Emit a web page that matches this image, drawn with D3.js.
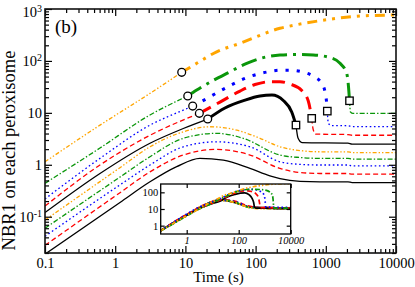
<!DOCTYPE html>
<html>
<head>
<meta charset="utf-8">
<script src="https://cdn.jsdelivr.net/npm/d3@7"></script>
<style>
  html, body { margin: 0; padding: 0; background: #fff; }
  svg text { font-family: "Liberation Serif", "Times New Roman", serif; fill: #000; }
</style>
</head>
<body>
<div id="chart"></div>
<script>
// tick values and labels
const xMajor = [0.1, 1, 10, 100, 1000, 10000];
const xLabels = ["0.1", "1", "10", "100", "1000", "10000"];
const yMajor = [0.1, 1, 10, 100, 1000];
const yLabels = ["10^-1", "1", "10", "10^2", "10^3"];
const insetXMajor = [1, 100, 10000];
const insetXLabels = ["1", "100", "10000"];
const insetYMajor = [1, 10, 100];
const insetYLabels = ["1", "10", "100"];

// upper curves, [time (s), NBR1]: thin rise to the circle, thick part to the square, thin tail
const upBlackRise = [[0.1, 0.12], [0.607, 0.68], [3.13, 2.6], [9.33, 5.0], [20.8, 7.59]];
const upBlackHigh = [[20.8, 7.59], [36.6, 12.4], [70.6, 17.6], [115.5, 21.1], [171, 22.0], [248, 17.3], [327, 10.4], [376, 5.82]];
const upBlackTail = [[376, 5.82], [402, 3.27], [458, 2.68], [2071, 2.62], [2362, 2.51], [10000, 2.51]];

const upRedRise = [[0.1, 0.16], [0.607, 0.99], [3.13, 3.7], [15.8, 9.78]];
const upRedHigh = [[15.8, 9.78], [31.1, 16.1], [60, 26.3], [98.1, 35.1], [160, 39.7], [222.6, 39.7], [309, 35.9], [454, 26.9], [563, 16.9], [630, 7.83]];
const upRedTail = [[630, 7.83], [664, 4.66], [725, 3.9], [2071, 3.82], [2362, 3.7], [10000, 3.7]];

const upBlueRise = [[0.1, 0.22], [0.607, 1.33], [3.13, 5.8], [9.33, 11.3], [12.7, 13.5]];
const upBlueHigh = [[12.7, 13.5], [19.0, 18.0], [36.6, 29.7], [70.6, 46.2], [152, 61.9], [223, 66.2], [309, 66.2], [454, 61.9], [663, 50.7], [874, 37.0], [974, 25.5], [1030, 15.2], [1051, 10.8]];
const upBlueTail = [[1051, 10.8], [1085, 6.36], [1186, 5.69], [2071, 5.64], [2362, 5.45], [10000, 5.45]];

const upGreenRise = [[0.1, 0.44], [0.607, 2.1], [3.13, 9.1], [10.8, 21.1]];
const upGreenHigh = [[10.8, 21.1], [14.5, 27.5], [43.2, 61.9], [74.7, 89.9], [128.8, 116], [222.6, 130], [385, 133], [663, 130], [1148, 116], [1594, 89.9], [1985, 57.7], [2141, 23.8], [2176, 17.1]];
const upGreenTail = [[2176, 17.1], [2248, 10.4], [2441, 9.78], [10000, 9.78]];

const upOrangeRise = [[0.1, 1.14], [0.607, 5.8], [3.13, 23.7], [8.86, 60.3]];
const upOrangeHigh = [[8.86, 60.3], [14.5, 89.9], [27.9, 150], [60, 218], [222.6, 425], [364, 491], [826, 595], [3070, 733], [10000, 766]];

// lower curves
const lowBlack = [[0.1, 0.019], [1.17, 0.188], [3.13, 0.47], [7.52, 0.92], [16.1, 1.33], [34.7, 1.23], [83.2, 0.85], [160, 0.61], [222.6, 0.54], [429, 0.48], [826, 0.47], [2071, 0.47], [2362, 0.454], [10000, 0.454]];
const lowRed = [[0.1, 0.028], [1.17, 0.29], [3.13, 0.73], [9.33, 1.54], [27.9, 1.98], [83.2, 1.54], [222.6, 0.85], [429, 0.71], [826, 0.68], [2071, 0.68], [2362, 0.66], [10000, 0.66]];
const lowBlue = [[0.1, 0.042], [1.17, 0.41], [3.13, 0.99], [9.33, 2.22], [27.9, 2.77], [83.2, 2.22], [222.6, 1.14], [429, 1.02], [826, 0.99], [2071, 0.99], [2362, 0.95], [10000, 0.95]];
const lowGreen = [[0.1, 0.06], [1.17, 0.58], [3.13, 1.43], [9.33, 3.23], [27.9, 4.03], [66.8, 3.23], [222.6, 1.54], [429, 1.38], [826, 1.33], [2071, 1.33], [2362, 1.29], [10000, 1.29]];
const lowOrange = [[0.1, 0.086], [1.17, 0.88], [3.13, 2.22], [9.33, 4.32], [22.4, 5.4], [53.8, 4.66], [115.5, 3.23], [222.6, 2.22], [429, 1.88], [826, 1.78], [2071, 1.78], [2362, 1.72], [10000, 1.72]];

// inset: each curve rescaled so the early parts collapse
const insetUpFactor = [4.2, 3.1, 2.3, 1.14, 0.44];
const insetLowFactor = [26, 18, 12, 8.3, 5.8];

const styles = {
  black: { color: "#000000", thin: null, thick: null },
  red: { color: "#ff0000", thin: "5,3", thick: "13,7" },
  blue: { color: "#0000ff", thin: "1.6,2.6", thick: "3.2,8" },
  green: { color: "#0a960a", thin: "5,2,1.4,2", thick: "16,6,3,6" },
  orange: { color: "#ffa500", thin: "4,2,1.4,2,1.4,2", thick: "10,6,3,6,3,6" }
};

const upper = [
  { s: "black", rise: upBlackRise, high: upBlackHigh, tail: upBlackTail },
  { s: "red", rise: upRedRise, high: upRedHigh, tail: upRedTail },
  { s: "blue", rise: upBlueRise, high: upBlueHigh, tail: upBlueTail },
  { s: "green", rise: upGreenRise, high: upGreenHigh, tail: upGreenTail },
  { s: "orange", rise: upOrangeRise, high: upOrangeHigh, tail: null }
];
const lower = [
  { s: "black", data: lowBlack },
  { s: "red", data: lowRed },
  { s: "blue", data: lowBlue },
  { s: "green", data: lowGreen },
  { s: "orange", data: lowOrange }
];

const W = 415, H = 287;
const plot = { left: 45, right: 396, top: 9, bottom: 253 };

const svg = d3.select("#chart").append("svg")
  .attr("width", W).attr("height", H);

const x = d3.scaleLog().domain([0.1, 10000]).range([plot.left, plot.right]);
const y = d3.scaleLog().domain([0.02, 1000]).range([plot.bottom, plot.top]);

svg.append("clipPath").attr("id", "clipMain").append("rect")
  .attr("x", plot.left).attr("y", plot.top)
  .attr("width", plot.right - plot.left).attr("height", plot.bottom - plot.top);

const line = d3.line()
  .x(d => x(d[0])).y(d => y(d[1]))
  .curve(d3.curveMonotoneX);

const curves = svg.append("g").attr("clip-path", "url(#clipMain)");

function drawPath(g, gen, data, st, thick) {
  g.append("path")
    .datum(data)
    .attr("d", gen)
    .attr("fill", "none")
    .attr("stroke", st.color)
    .attr("stroke-width", thick ? 3 : 1.3)
    .attr("stroke-dasharray", thick ? st.thick : st.thin);
}

lower.forEach(c => drawPath(curves, line, c.data, styles[c.s], false));
upper.forEach(c => {
  const st = styles[c.s];
  drawPath(curves, line, c.rise, st, false);
  if (c.tail) drawPath(curves, line, c.tail, st, false);
  drawPath(curves, line, c.high, st, true);
});

// circles where the thick part starts, squares where it ends
upper.forEach(c => {
  const p = c.rise[c.rise.length - 1];
  curves.append("circle")
    .attr("cx", x(p[0])).attr("cy", y(p[1])).attr("r", 3.9)
    .attr("fill", "#fff").attr("stroke", "#000").attr("stroke-width", 1.3);
  if (c.tail) {
    const q = c.tail[0];
    curves.append("rect")
      .attr("x", x(q[0]) - 3.7).attr("y", y(q[1]) - 3.7)
      .attr("width", 7.4).attr("height", 7.4)
      .attr("fill", "#fff").attr("stroke", "#000").attr("stroke-width", 1.3);
  }
});

// main axes, ticks inward on all four sides
function minorTicks(lo, hi) {
  const out = [];
  for (let e = lo; e < hi; e++) {
    for (let m = 2; m <= 9; m++) out.push(m * Math.pow(10, e));
  }
  return out;
}
const xMinor = minorTicks(-1, 4);
const yMinor = minorTicks(-2, 3).filter(v => v >= 0.02);

function styleAxis(g) {
  g.select(".domain").remove();
  g.selectAll(".tick line").attr("stroke", "#000").attr("stroke-width", 1.2);
}

const axes = svg.append("g");

axes.append("g").attr("transform", `translate(0,${plot.bottom})`)
  .call(d3.axisBottom(x).tickValues(xMajor).tickFormat((d, i) => xLabels[i])
    .tickSizeInner(-7).tickSizeOuter(0).tickPadding(5))
  .call(styleAxis)
  .call(g => g.selectAll("text").attr("font-size", 14.5)
    .attr("font-family", "Liberation Serif, serif"));
axes.append("g").attr("transform", `translate(0,${plot.bottom})`)
  .call(d3.axisBottom(x).tickValues(xMinor).tickFormat("")
    .tickSizeInner(-4).tickSizeOuter(0))
  .call(styleAxis);
axes.append("g").attr("transform", `translate(0,${plot.top})`)
  .call(d3.axisTop(x).tickValues(xMajor).tickFormat("")
    .tickSizeInner(-7).tickSizeOuter(0))
  .call(styleAxis);
axes.append("g").attr("transform", `translate(0,${plot.top})`)
  .call(d3.axisTop(x).tickValues(xMinor).tickFormat("")
    .tickSizeInner(-4).tickSizeOuter(0))
  .call(styleAxis);

function powerLabels(g, labels, supSize) {
  g.selectAll(".tick text").each(function (d, i) {
    const t = d3.select(this);
    const parts = labels[i].split("^");
    t.text(null);
    t.append("tspan").text(parts[0]);
    if (parts[1]) {
      t.append("tspan").attr("dy", "-0.5em").attr("font-size", supSize).text(parts[1]);
    }
  });
}

axes.append("g").attr("transform", `translate(${plot.left},0)`)
  .call(d3.axisLeft(y).tickValues(yMajor).tickFormat((d, i) => yLabels[i])
    .tickSizeInner(-7).tickSizeOuter(0).tickPadding(3))
  .call(styleAxis)
  .call(g => g.selectAll("text").attr("font-size", 14.5)
    .attr("font-family", "Liberation Serif, serif"))
  .call(g => powerLabels(g, yLabels, 10))
  .call(g => g.selectAll(".tick").filter(d => d === 1000).select("text").attr("y", 3));
axes.append("g").attr("transform", `translate(${plot.left},0)`)
  .call(d3.axisLeft(y).tickValues(yMinor).tickFormat("")
    .tickSizeInner(-4).tickSizeOuter(0))
  .call(styleAxis);
axes.append("g").attr("transform", `translate(${plot.right},0)`)
  .call(d3.axisRight(y).tickValues(yMajor).tickFormat("")
    .tickSizeInner(-7).tickSizeOuter(0))
  .call(styleAxis);
axes.append("g").attr("transform", `translate(${plot.right},0)`)
  .call(d3.axisRight(y).tickValues(yMinor).tickFormat("")
    .tickSizeInner(-4).tickSizeOuter(0))
  .call(styleAxis);

axes.append("rect")
  .attr("x", plot.left).attr("y", plot.top)
  .attr("width", plot.right - plot.left).attr("height", plot.bottom - plot.top)
  .attr("fill", "none").attr("stroke", "#111").attr("stroke-width", 1.6);

// axis titles and panel letter
svg.append("text")
  .attr("x", (plot.left + plot.right) / 2 - 2).attr("y", 282)
  .attr("text-anchor", "middle").attr("font-size", 15)
  .text("Time (s)");
svg.append("text")
  .attr("transform", "translate(14.5,150.5) rotate(-90)")
  .attr("text-anchor", "middle").attr("font-size", 18.5)
  .text("NBR1 on each peroxisome");
svg.append("text")
  .attr("x", 55).attr("y", 33).attr("font-size", 19)
  .text("(b)");

// inset
const ib = { left: 160.7, right: 290.7, top: 184, bottom: 234 };
const xi = d3.scaleLog().domain([0.1, 10000]).range([ib.left, ib.right]);
const yi = d3.scaleLog().domain([Math.pow(10, -0.5), Math.pow(10, 2.5)]).range([ib.bottom, ib.top]);

const inset = svg.append("g");
inset.append("rect")
  .attr("x", ib.left).attr("y", ib.top)
  .attr("width", ib.right - ib.left).attr("height", ib.bottom - ib.top)
  .attr("fill", "#fff");
svg.append("clipPath").attr("id", "clipInset").append("rect")
  .attr("x", ib.left).attr("y", ib.top)
  .attr("width", ib.right - ib.left).attr("height", ib.bottom - ib.top);

const insetCurves = inset.append("g").attr("clip-path", "url(#clipInset)");

function insetPath(data, k, st) {
  const lineI = d3.line()
    .x(d => xi(d[0])).y(d => yi(d[1] * k))
    .curve(d3.curveMonotoneX);
  insetCurves.append("path")
    .datum(data)
    .attr("d", lineI)
    .attr("fill", "none")
    .attr("stroke", st.color)
    .attr("stroke-width", 1.7)
    .attr("stroke-dasharray", st.thin);
}
lower.forEach((c, i) => insetPath(c.data, insetLowFactor[i], styles[c.s]));
upper.forEach((c, i) => {
  const all = c.rise.concat(c.high.slice(1), c.tail ? c.tail.slice(1) : []);
  insetPath(all, insetUpFactor[i], styles[c.s]);
});

inset.append("g").attr("transform", `translate(0,${ib.bottom})`)
  .call(d3.axisBottom(xi).tickValues(insetXMajor).tickFormat((d, i) => insetXLabels[i])
    .tickSizeInner(-4).tickSizeOuter(0).tickPadding(2.5))
  .call(styleAxis)
  .call(g => g.selectAll("text").attr("font-size", 10.5).attr("font-style", "italic")
    .attr("font-family", "Liberation Serif, serif"));
inset.append("g").attr("transform", `translate(0,${ib.top})`)
  .call(d3.axisTop(xi).tickValues(insetXMajor).tickFormat("")
    .tickSizeInner(-4).tickSizeOuter(0))
  .call(styleAxis);
inset.append("g").attr("transform", `translate(${ib.left},0)`)
  .call(d3.axisLeft(yi).tickValues(insetYMajor).tickFormat((d, i) => insetYLabels[i])
    .tickSizeInner(-4).tickSizeOuter(0).tickPadding(2.5))
  .call(styleAxis)
  .call(g => g.selectAll("text").attr("font-size", 10.5)
    .attr("font-family", "Liberation Serif, serif"));
inset.append("g").attr("transform", `translate(${ib.right},0)`)
  .call(d3.axisRight(yi).tickValues(insetYMajor).tickFormat("")
    .tickSizeInner(-4).tickSizeOuter(0))
  .call(styleAxis);
inset.append("rect")
  .attr("x", ib.left).attr("y", ib.top)
  .attr("width", ib.right - ib.left).attr("height", ib.bottom - ib.top)
  .attr("fill", "none").attr("stroke", "#000").attr("stroke-width", 1.3);
</script>
</body>
</html>
